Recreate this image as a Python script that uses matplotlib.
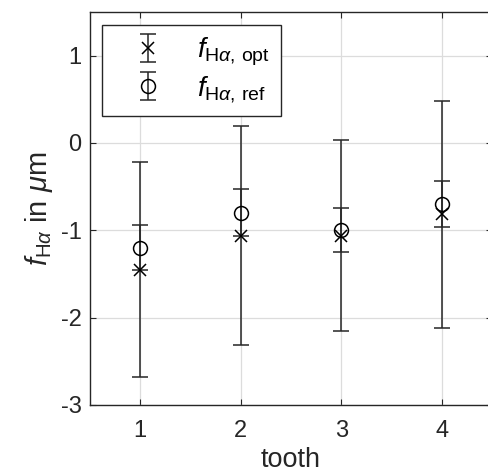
import matplotlib
matplotlib.use("Agg")
import matplotlib.pyplot as plt
import numpy as np

plt.rcParams['font.family'] = ['Liberation Sans', 'DejaVu Sans']
plt.rcParams['mathtext.fontset'] = 'custom'
plt.rcParams['mathtext.rm'] = 'Liberation Sans'
plt.rcParams['mathtext.it'] = 'Liberation Sans:italic'
plt.rcParams['mathtext.bf'] = 'Liberation Sans:bold'

teeth = [1, 2, 3, 4]
f_opt = [-1.45, -1.06, -1.06, -0.815]
f_opt_err = [1.23, 1.25, 1.09, 1.30]
f_ref = [-1.20, -0.80, -1.00, -0.70]
f_ref_err = [0.26, 0.27, 0.25, 0.26]

fig = plt.figure(figsize=(4.88, 4.73), dpi=100)
ax = fig.add_axes([0.1844, 0.1438, 0.8238, 0.8309])

axc = '#262626'
ax.errorbar(teeth, f_opt, yerr=f_opt_err, fmt='x', color='k', ecolor=axc,
            markersize=8, markeredgewidth=1.1, elinewidth=1.1, capsize=6, capthick=1.1,
            label=r'$f_{\mathrm{H}\alpha,\,\mathrm{opt}}$')
ax.errorbar(teeth, f_ref, yerr=f_ref_err, fmt='o', color='k', ecolor=axc,
            markersize=10, markerfacecolor='none', markeredgewidth=1.1, elinewidth=1.1,
            capsize=6, capthick=1.1, label=r'$f_{\mathrm{H}\alpha,\,\mathrm{ref}}$')

ax.set_xlim(0.5, 4.5)
ax.set_ylim(-3, 1.5)
ax.set_xticks(teeth)
ax.set_yticks([-3, -2, -1, 0, 1])
ax.set_yticklabels(['-3', '-2', '-1', '0', '1'])
ax.grid(True, color='#dcdcdc', linewidth=0.9)
ax.set_axisbelow(True)
for s in ax.spines.values():
    s.set_color(axc)
    s.set_linewidth(1.0)
ax.tick_params(direction='in', length=4, colors=axc, labelsize=17, labelcolor='#262626',
               top=True, right=True)
ax.tick_params(axis='x', pad=11)
ax.tick_params(axis='y', pad=6)
ax.set_xlabel('tooth', fontsize=19.5, color='#262626', labelpad=3.5)
ax.set_ylabel(r'$f_{\mathrm{H}\alpha}$ in $\mu$m', fontsize=21, color='#262626', labelpad=4)

leg = ax.legend(loc='upper left', bbox_to_anchor=(0.03, 0.967), borderaxespad=0,
                fontsize=20, frameon=True, fancybox=False, edgecolor=axc, framealpha=1,
                handlelength=2.5, handletextpad=0.52, borderpad=0.4, labelspacing=0.2)
leg.get_frame().set_linewidth(1.0)

fig.savefig('out.png', dpi=100)
